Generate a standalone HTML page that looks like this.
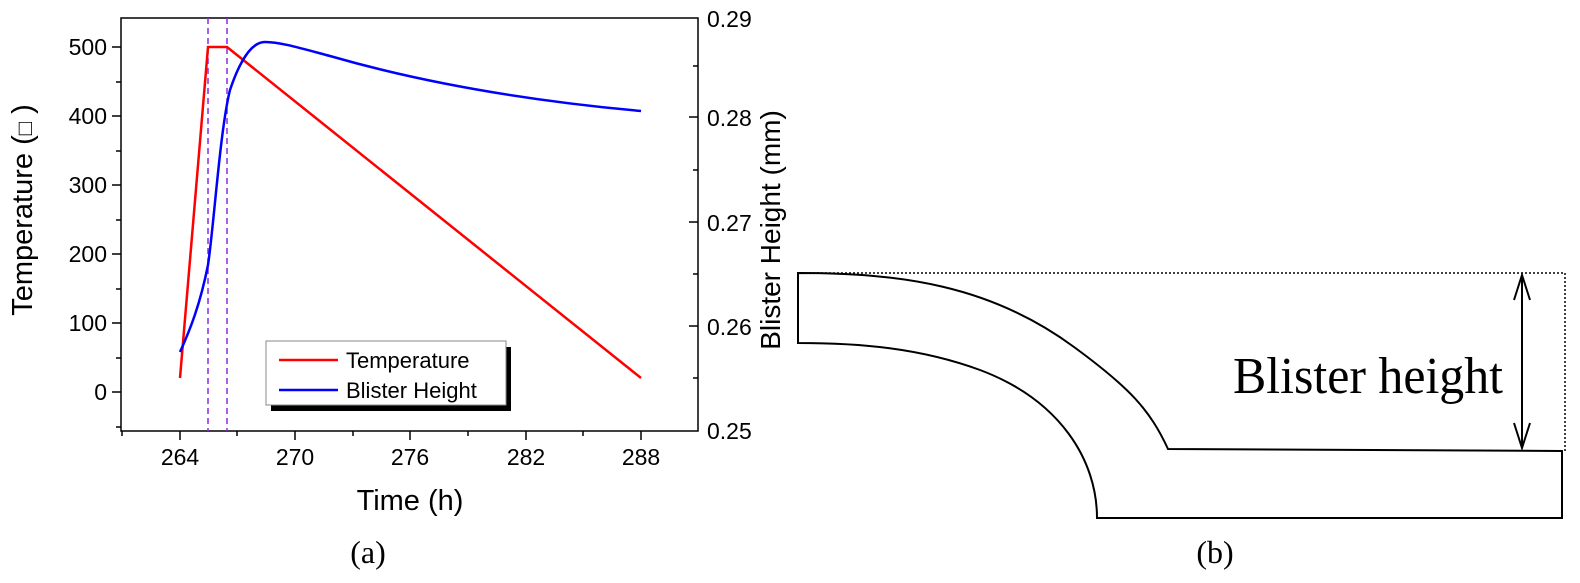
<!DOCTYPE html>
<html><head><meta charset="utf-8"><style>
html,body{margin:0;padding:0;background:#fff;}
svg{display:block;}
</style></head><body>
<svg width="1580" height="583" viewBox="0 0 1580 583" xmlns="http://www.w3.org/2000/svg" font-family="Liberation Sans, Arial, sans-serif">
<rect x="121" y="18" width="577" height="413" fill="none" stroke="#000" stroke-width="1.5"/>
<g stroke="#000" stroke-width="1.5">
<line x1="180" y1="431" x2="180" y2="440"/><line x1="295" y1="431" x2="295" y2="440"/><line x1="410" y1="431" x2="410" y2="440"/><line x1="526" y1="431" x2="526" y2="440"/><line x1="641" y1="431" x2="641" y2="440"/>
<line x1="122" y1="431" x2="122" y2="436"/><line x1="237" y1="431" x2="237" y2="436"/><line x1="353" y1="431" x2="353" y2="436"/><line x1="468" y1="431" x2="468" y2="436"/><line x1="583" y1="431" x2="583" y2="436"/>
<line x1="112" y1="47" x2="121" y2="47"/><line x1="112" y1="116" x2="121" y2="116"/><line x1="112" y1="185" x2="121" y2="185"/><line x1="112" y1="254" x2="121" y2="254"/><line x1="112" y1="323" x2="121" y2="323"/><line x1="112" y1="392" x2="121" y2="392"/>
<line x1="116" y1="82" x2="121" y2="82"/><line x1="116" y1="151" x2="121" y2="151"/><line x1="116" y1="220" x2="121" y2="220"/><line x1="116" y1="289" x2="121" y2="289"/><line x1="116" y1="358" x2="121" y2="358"/><line x1="116" y1="427" x2="121" y2="427"/>
<line x1="689" y1="117" x2="698" y2="117"/><line x1="689" y1="222" x2="698" y2="222"/><line x1="689" y1="326" x2="698" y2="326"/>
<line x1="693" y1="66" x2="698" y2="66"/><line x1="693" y1="170" x2="698" y2="170"/><line x1="693" y1="274" x2="698" y2="274"/><line x1="693" y1="378" x2="698" y2="378"/>
</g>
<g font-size="23" fill="#000">
<g text-anchor="end">
<text x="107" y="55">500</text><text x="107" y="124">400</text><text x="107" y="193">300</text><text x="107" y="262">200</text><text x="107" y="331">100</text><text x="107" y="400">0</text>
</g>
<g text-anchor="middle">
<text x="180" y="465">264</text><text x="295" y="465">270</text><text x="410" y="465">276</text><text x="526" y="465">282</text><text x="641" y="465">288</text>
</g>
<text x="707" y="27">0.29</text><text x="707" y="126">0.28</text><text x="707" y="231">0.27</text><text x="707" y="335">0.26</text><text x="707" y="439">0.25</text>
</g>
<text x="410" y="510" font-size="29" text-anchor="middle">Time (h)</text>
<text transform="translate(32,210) rotate(-90)" font-size="29" text-anchor="middle">Temperature (<tspan font-size="22">□</tspan> )</text>
<text transform="translate(780,230) rotate(-90)" font-size="28" text-anchor="middle">Blister Height (mm)</text>
<text x="368" y="563" font-size="32" font-family="Liberation Serif, serif" text-anchor="middle">(a)</text>
<line x1="208" y1="18" x2="208" y2="431" stroke="#8a2be2" stroke-width="1.5" stroke-dasharray="6,4"/>
<line x1="227" y1="18" x2="227" y2="431" stroke="#8a2be2" stroke-width="1.5" stroke-dasharray="6,4"/>
<polyline points="180,378 208,47 227,47 641,378" fill="none" stroke="#f00" stroke-width="2.5"/>
<path d="M180,352 C190,330 200,305 208,265 C214,225 220,130 230,90 C240,60 252,42 265,42 C280,42 300,48 330,56 C420,82 520,100 641,111" fill="none" stroke="#00f" stroke-width="2.5"/>
<rect x="271" y="347" width="240" height="64" fill="#000"/>
<rect x="266" y="341" width="240" height="64" fill="#fff" stroke="#888" stroke-width="1"/>
<line x1="279" y1="360" x2="338" y2="360" stroke="#f00" stroke-width="2.5"/>
<line x1="279" y1="390" x2="338" y2="390" stroke="#00f" stroke-width="2.5"/>
<text x="346" y="368" font-size="22">Temperature</text>
<text x="346" y="398" font-size="22">Blister Height</text>
<path d="M797,273 H1565 V451" fill="none" stroke="#000" stroke-width="1.5" stroke-dasharray="2,2"/>
<path d="M798,343 V273 C900,273 990,285 1074,347 C1130,388 1150,410 1168,449 L1562,451 V518 H1097 C1097,460 1060,400 980,370 C920,348 860,343 798,343 Z" fill="none" stroke="#000" stroke-width="2"/>
<line x1="1522" y1="275" x2="1522" y2="448" stroke="#000" stroke-width="2"/>
<path d="M1514,300 L1522,275 L1530,300 M1514,423 L1522,448 L1530,423" fill="none" stroke="#000" stroke-width="2"/>
<text x="1233" y="393" font-size="52" font-family="Liberation Serif, serif" textLength="270" lengthAdjust="spacingAndGlyphs">Blister height</text>
<text x="1215" y="563" font-size="32" font-family="Liberation Serif, serif" text-anchor="middle">(b)</text>
</svg>
</body></html>
